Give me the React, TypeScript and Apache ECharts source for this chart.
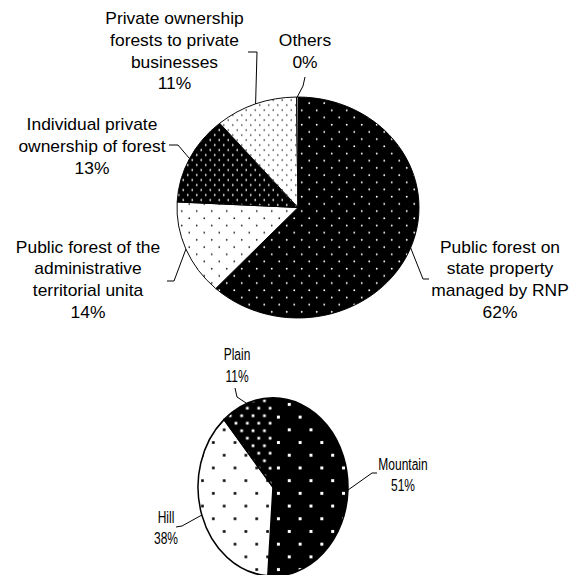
import React, { useEffect, useRef } from 'react';
import * as echarts from 'echarts';

// ---------- data ----------
const topCategories = [
  'Public forest on\nstate property\nmanaged by RNP',
  'Public forest of the\nadministrative\nterritorial unita',
  'Individual private\nownership of forest',
  'Private ownership\nforests to private\nbusinesses',
  'Others',
];
const topValues = [61.9, 13.9, 13.0, 11.0, 0.2];

const bottomCategories = ['Mountain', 'Hill', 'Plain'];
const bottomValues = [51.1, 37.6, 11.3];

// ---------- layout / style ----------
const TOP_PIE = { cx: 298, cy: 207.5, rx: 121, ry: 110.5, fontSize: 16, lineH: 21.7, tsx: 1.09, tsy: 1, strokeW: 1 };
const BOTTOM_PIE = { cx: 273, cy: 487, rx: 75, ry: 89, fontSize: 12, lineH: 14.8, tsx: 1, tsy: 1.45, strokeW: 1.5 };

// label block centre + leader elbow/end (start is on the slice edge at mid-angle)
const topLabelLayout = [
  { x: 500, y: 280, elbow: [423, 279], end: [429, 279] },
  { x: 88, y: 280, elbow: [174, 281], end: [167, 281] },
  { x: 92, y: 146.7, elbow: [178, 145], end: [169, 145] },
  { x: 174.5, y: 51.5, elbow: [257, 52], end: [248, 52] },
  { x: 305, y: 51.5, elbow: [303, 86], end: [305, 77] },
];
const bottomLabelLayout = [
  { x: 403, y: 474, elbow: [372, 473], end: [377, 473] },
  { x: 166, y: 527, elbow: [182, 526], end: [176, 527] },
  { x: 237, y: 364.5, elbow: [237, 397], end: [235, 388] },
];

type PatDef = { bg: string; dot: string; w: number; h: number; size: number; shape: 'circle' | 'square' };
const topPatterns: PatDef[] = [
  { bg: '#000', dot: '#fff', w: 15, h: 14.4, size: 1.9, shape: 'circle' },
  { bg: '#fff', dot: '#222', w: 15, h: 14.4, size: 1.7, shape: 'circle' },
  { bg: '#000', dot: '#fff', w: 9, h: 10, size: 1.8, shape: 'circle' },
  { bg: '#fff', dot: '#333', w: 9, h: 10, size: 1.7, shape: 'circle' },
  { bg: '#fff', dot: '#fff', w: 9, h: 10, size: 1, shape: 'circle' },
];
const bottomPatterns: PatDef[] = [
  { bg: '#000', dot: '#fff', w: 21.7, h: 25.4, size: 3, shape: 'square' },
  { bg: '#fff', dot: '#000', w: 21.7, h: 25.4, size: 2.6, shape: 'square' },
  { bg: '#000', dot: '#fff', w: 11.4, h: 15, size: 2.7, shape: 'square' },
];

function makePattern(p: PatDef, sy: number) {
  const w = p.w;
  const h = p.h / sy;
  const pts = [
    [w / 4, h / 4],
    [(3 * w) / 4, (3 * h) / 4],
  ];
  const s = p.size;
  const sh = s / sy;
  const marks = pts
    .map(([x, y]) =>
      p.shape === 'circle'
        ? `<ellipse cx="${x}" cy="${y}" rx="${s / 2}" ry="${sh / 2}" fill="${p.dot}"/>`
        : `<rect x="${x - s / 2}" y="${y - sh / 2}" width="${s}" height="${sh}" fill="${p.dot}"/>`
    )
    .join('');
  const svg = `<svg xmlns="http://www.w3.org/2000/svg" width="${w}" height="${h}" viewBox="0 0 ${w} ${h}"><rect x="0" y="0" width="${w}" height="${h}" fill="${p.bg}"/>${marks}</svg>`;
  return {
    image: 'data:image/svg+xml;charset=utf-8,' + encodeURIComponent(svg),
    repeat: 'repeat',
    imageWidth: w,
    imageHeight: h,
  };
}

function buildSeries(cfg: any, cats: string[], vals: number[], layout: any[], pats: PatDef[]) {
  const total = vals.reduce((a, b) => a + b, 0);
  const starts: number[] = [];
  let acc = 0;
  vals.forEach((v) => {
    starts.push(acc);
    acc += v;
  });
  const sy = cfg.ry / cfg.rx;
  const fills = pats.map((p) => makePattern(p, sy));
  return {
    type: 'custom',
    coordinateSystem: 'none',
    silent: true,
    data: vals.map((v) => [v]),
    renderItem: (params: any, api: any) => {
      const i = params.dataIndex;
      const v = api.value(0);
      const a0 = (starts[i] / total) * Math.PI * 2;
      const a1 = ((starts[i] + v) / total) * Math.PI * 2;
      const am = (a0 + a1) / 2;
      const edge = [cfg.cx + cfg.rx * Math.sin(am), cfg.cy - cfg.ry * Math.cos(am)];
      const lab = layout[i];
      const pct = Math.round((v / total) * 100);
      return {
        type: 'group',
        children: [
          {
            type: 'sector',
            x: cfg.cx,
            y: cfg.cy,
            scaleY: sy,
            shape: {
              cx: 0,
              cy: 0,
              r: cfg.rx,
              r0: 0,
              startAngle: a0 - Math.PI / 2,
              endAngle: a1 - Math.PI / 2,
              clockwise: true,
            },
            style: { fill: fills[i], stroke: '#000', lineWidth: cfg.strokeW },
            z2: 1,
          },
          {
            type: 'polyline',
            shape: { points: [edge, lab.elbow, lab.end] },
            style: { stroke: '#000', lineWidth: 1, fill: null },
            z2: 5,
          },
          {
            type: 'text',
            x: lab.x,
            y: lab.y,
            scaleX: cfg.tsx,
            scaleY: cfg.tsy,
            style: {
              text: cats[i] + '\n' + pct + '%',
              fill: '#000',
              fontSize: cfg.fontSize,
              fontFamily: '"Liberation Sans", Arial, sans-serif',
              align: 'center',
              verticalAlign: 'middle',
              lineHeight: cfg.lineH,
            },
            z2: 6,
          },
        ],
      };
    },
  };
}

export default function App() {
  const ref = useRef<HTMLDivElement>(null);
  useEffect(() => {
    if (!ref.current) return;
    const chart = echarts.init(ref.current, null, { renderer: 'svg' });
    chart.setOption({
      animation: false,
      backgroundColor: '#fff',
      series: [
        buildSeries(TOP_PIE, topCategories, topValues, topLabelLayout, topPatterns),
        buildSeries(BOTTOM_PIE, bottomCategories, bottomValues, bottomLabelLayout, bottomPatterns),
      ],
    });
    return () => chart.dispose();
  }, []);
  return (
    <div
      ref={ref}
      style={{ position: 'absolute', left: 0, top: 0, width: 574, height: 575, background: '#fff' }}
    />
  );
}
